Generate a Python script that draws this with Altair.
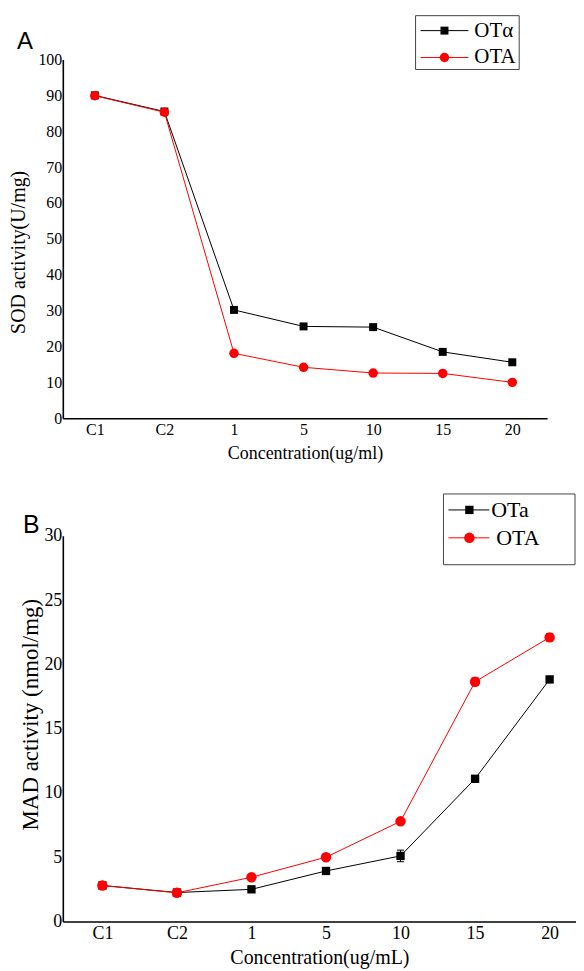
import altair as alt
import pandas as pd

# ---------------- data ----------------
categories = ["C1", "C2", "1", "5", "10", "15", "20"]

# Panel A: SOD activity (U/mg)
sod_series = ["OTα", "OTA"]
sod_ota_alpha = [90.0, 85.5, 30.2, 25.6, 25.4, 18.5, 15.6]
sod_ota = [89.9, 85.3, 18.1, 14.2, 12.6, 12.5, 10.0]

# Panel B: MAD activity (nmol/mg)
mad_series = ["OTa", "OTA"]
mad_ota_a = [2.8, 2.25, 2.5, 3.93, 5.1, 11.1, 18.83]
mad_ota = [2.8, 2.23, 3.44, 5.0, 7.79, 18.65, 22.1]
mad_ota_a_err = [0.15, 0.15, 0.15, 0.2, 0.45, 0.2, 0.2]
mad_ota_err = [0.2, 0.2, 0.2, 0.25, 0.2, 0.3, 0.3]

panel_letters = ["A", "B"]

# ---------------- tables ----------------
idx = list(range(len(categories)))
sod_df = pd.DataFrame({
    "cat": categories * 2,
    "idx": idx * 2,
    "series": [sod_series[0]] * len(categories) + [sod_series[1]] * len(categories),
    "value": sod_ota_alpha + sod_ota,
})
mad_df = pd.DataFrame({
    "cat": categories * 2,
    "idx": idx * 2,
    "series": [mad_series[0]] * len(categories) + [mad_series[1]] * len(categories),
    "value": mad_ota_a + mad_ota,
    "err": mad_ota_a_err + mad_ota_err,
})
mad_df["lo"] = mad_df["value"] - mad_df["err"]
mad_df["hi"] = mad_df["value"] + mad_df["err"]

BLACK = "#000000"
RED = "#ff0000"
SERIF = "Liberation Serif"
SANS = "Liberation Sans"
ORIGIN_X = 61

cat_js = "[" + ",".join(f"'{c}'" for c in categories) + "]"
CAT_LABEL_EXPR = f"{cat_js}[datum.value]"


def legend_layers(series, box, rows, stub, marker_x, label_x, label_fs, sq_size, ci_size):
    """Hand-drawn legend (box, line stub, marker and label per series)."""
    leg_df = pd.DataFrame({"series": series, "row": list(range(len(series)))})
    lb = alt.Chart(leg_df)
    out = [lb.transform_filter(alt.datum.row == 0).mark_rect(
        fill="white", stroke="#444444", strokeWidth=1).encode(
        x=alt.value(box[0]), x2=alt.value(box[1]), y=alt.value(box[2]), y2=alt.value(box[3]))]
    for i, (col, kind) in enumerate([(BLACK, "square"), (RED, "circle")]):
        sub = lb.transform_filter(alt.datum.row == i)
        out.append(sub.mark_rule(color=col, strokeWidth=1).encode(
            x=alt.value(stub[0]), x2=alt.value(stub[1]), y=alt.value(rows[i])))
        if kind == "square":
            out.append(sub.mark_square(color=col, size=sq_size, opacity=1).encode(
                x=alt.value(marker_x), y=alt.value(rows[i])))
        else:
            out.append(sub.mark_circle(color=col, size=ci_size, opacity=1).encode(
                x=alt.value(marker_x), y=alt.value(rows[i])))
        out.append(sub.mark_text(font=SERIF, fontSize=label_fs, align="left",
                                 baseline="middle", color=BLACK).encode(
            x=alt.value(label_x[i]), y=alt.value(rows[i]), text="series:N"))
    return out


def panel(df, series, width, height, xdomain, ymax, ystep, xtitle, ytitle,
          tick_fs, xtitle_fs, ytitle_fs, xtitle_y, ytitle_x, ytitle_y,
          sq_size, ci_size, letter, letter_fs, letter_xy, legend, errors=False):
    color_scale = alt.Scale(domain=series, range=[BLACK, RED])
    x = alt.X(
        "idx:Q",
        scale=alt.Scale(domain=xdomain, nice=False, zero=False),
        axis=alt.Axis(
            title=xtitle, values=idx, labelExpr=CAT_LABEL_EXPR, labelAngle=0,
            ticks=False, tickSize=0, grid=False, labelFlush=False, labelOverlap=False,
            domainColor=BLACK, domainWidth=1.6,
            labelFont=SERIF, labelFontSize=tick_fs, labelColor=BLACK, labelPadding=3,
            titleFont=SERIF, titleFontSize=xtitle_fs, titleFontWeight="normal",
            titleColor=BLACK, titleY=xtitle_y, titleBaseline="alphabetic",
        ),
    )
    y = alt.Y(
        "value:Q",
        scale=alt.Scale(domain=[0, ymax], nice=False, zero=True),
        axis=alt.Axis(
            title=ytitle, values=list(range(0, ymax + 1, ystep)), ticks=False,
            tickSize=0, grid=False, domainColor=BLACK, domainWidth=1.6,
            labelFont=SERIF, labelFontSize=tick_fs, labelColor=BLACK, labelPadding=1,
            titleFont=SERIF, titleFontSize=ytitle_fs, titleFontWeight="normal",
            titleColor=BLACK, titleX=ytitle_x, titleY=ytitle_y,
            titleBaseline="alphabetic", titleAlign="center", titleAngle=270,
        ),
    )
    base = alt.Chart(df)
    lines = base.mark_line(strokeWidth=1, opacity=1).encode(
        x=x, y=y,
        color=alt.Color("series:N", scale=color_scale, legend=None),
        detail="series:N",
        order="idx:Q",
    )
    layers = [lines]
    if errors:
        for s, col in zip(series, [BLACK, RED]):
            sub = base.transform_filter(alt.datum.series == s)
            layers.append(sub.mark_rule(color=col, strokeWidth=1).encode(
                x=x, y=alt.Y("lo:Q"), y2="hi:Q"))
            layers.append(sub.mark_tick(color=col, size=7, thickness=1, opacity=1,
                                        orient="horizontal").encode(x=x, y=alt.Y("lo:Q")))
            layers.append(sub.mark_tick(color=col, size=7, thickness=1, opacity=1,
                                        orient="horizontal").encode(x=x, y=alt.Y("hi:Q")))
    squares = base.transform_filter(alt.datum.series == series[0]).mark_square(
        size=sq_size, color=BLACK, opacity=1).encode(x=x, y=y)
    circles = base.transform_filter(alt.datum.series == series[1]).mark_circle(
        size=ci_size, color=RED, opacity=1).encode(x=x, y=y)
    layers += [squares, circles]

    layers += legend_layers(series, **legend)

    letter_layer = alt.Chart(pd.DataFrame({"label": [letter]})).mark_text(
        font=SANS, fontSize=letter_fs, align="left", baseline="alphabetic",
        color=BLACK).encode(
        x=alt.value(letter_xy[0]), y=alt.value(letter_xy[1]), text="label:N")
    layers.append(letter_layer)

    return alt.layer(*layers).properties(width=width, height=height)


o = ORIGIN_X
panel_a = panel(
    sod_df, sod_series, width=486, height=360, xdomain=[-0.46, 6.5],
    ymax=100, ystep=10,
    xtitle="Concentration(ug/ml)", ytitle="SOD activity(U/mg)",
    tick_fs=16, xtitle_fs=18, ytitle_fs=20, xtitle_y=40,
    ytitle_x=22.5 - o, ytitle_y=193,
    sq_size=64, ci_size=90, letter=panel_letters[0], letter_fs=24,
    letter_xy=(15 - o, -11),
    legend=dict(box=(415 - o, 519 - o, -44, 10), rows=(-29, -2),
                stub=(420 - o, 468 - o), marker_x=444 - o,
                label_x=(474 - o, 474 - o), label_fs=21, sq_size=64, ci_size=90),
)
panel_b = panel(
    mad_df, mad_series, width=515, height=387, xdomain=[-0.531, 6.354],
    ymax=30, ystep=5,
    xtitle="Concentration(ug/mL)", ytitle="MAD activity (nmol/mg)",
    tick_fs=18, xtitle_fs=20, ytitle_fs=23, xtitle_y=42,
    ytitle_x=36 - o, ytitle_y=179,
    sq_size=70, ci_size=110, letter=panel_letters[1], letter_fs=25,
    letter_xy=(21 - o, -3),
    legend=dict(box=(443 - o, 575 - o, -42, 29), rows=(-26, 2),
                stub=(448 - o, 489 - o), marker_x=469 - o,
                label_x=(491 - o, 496 - o), label_fs=22, sq_size=70, ci_size=110),
    errors=True,
)

chart = alt.vconcat(panel_a, panel_b, spacing=118, bounds="flush").resolve_scale(
    color="independent"
).configure_view(
    stroke=None
).properties(
    padding={"left": 0, "top": 5, "right": 0, "bottom": 0}
)

chart.save("out.html", embed_options={"renderer": "svg", "actions": False})
